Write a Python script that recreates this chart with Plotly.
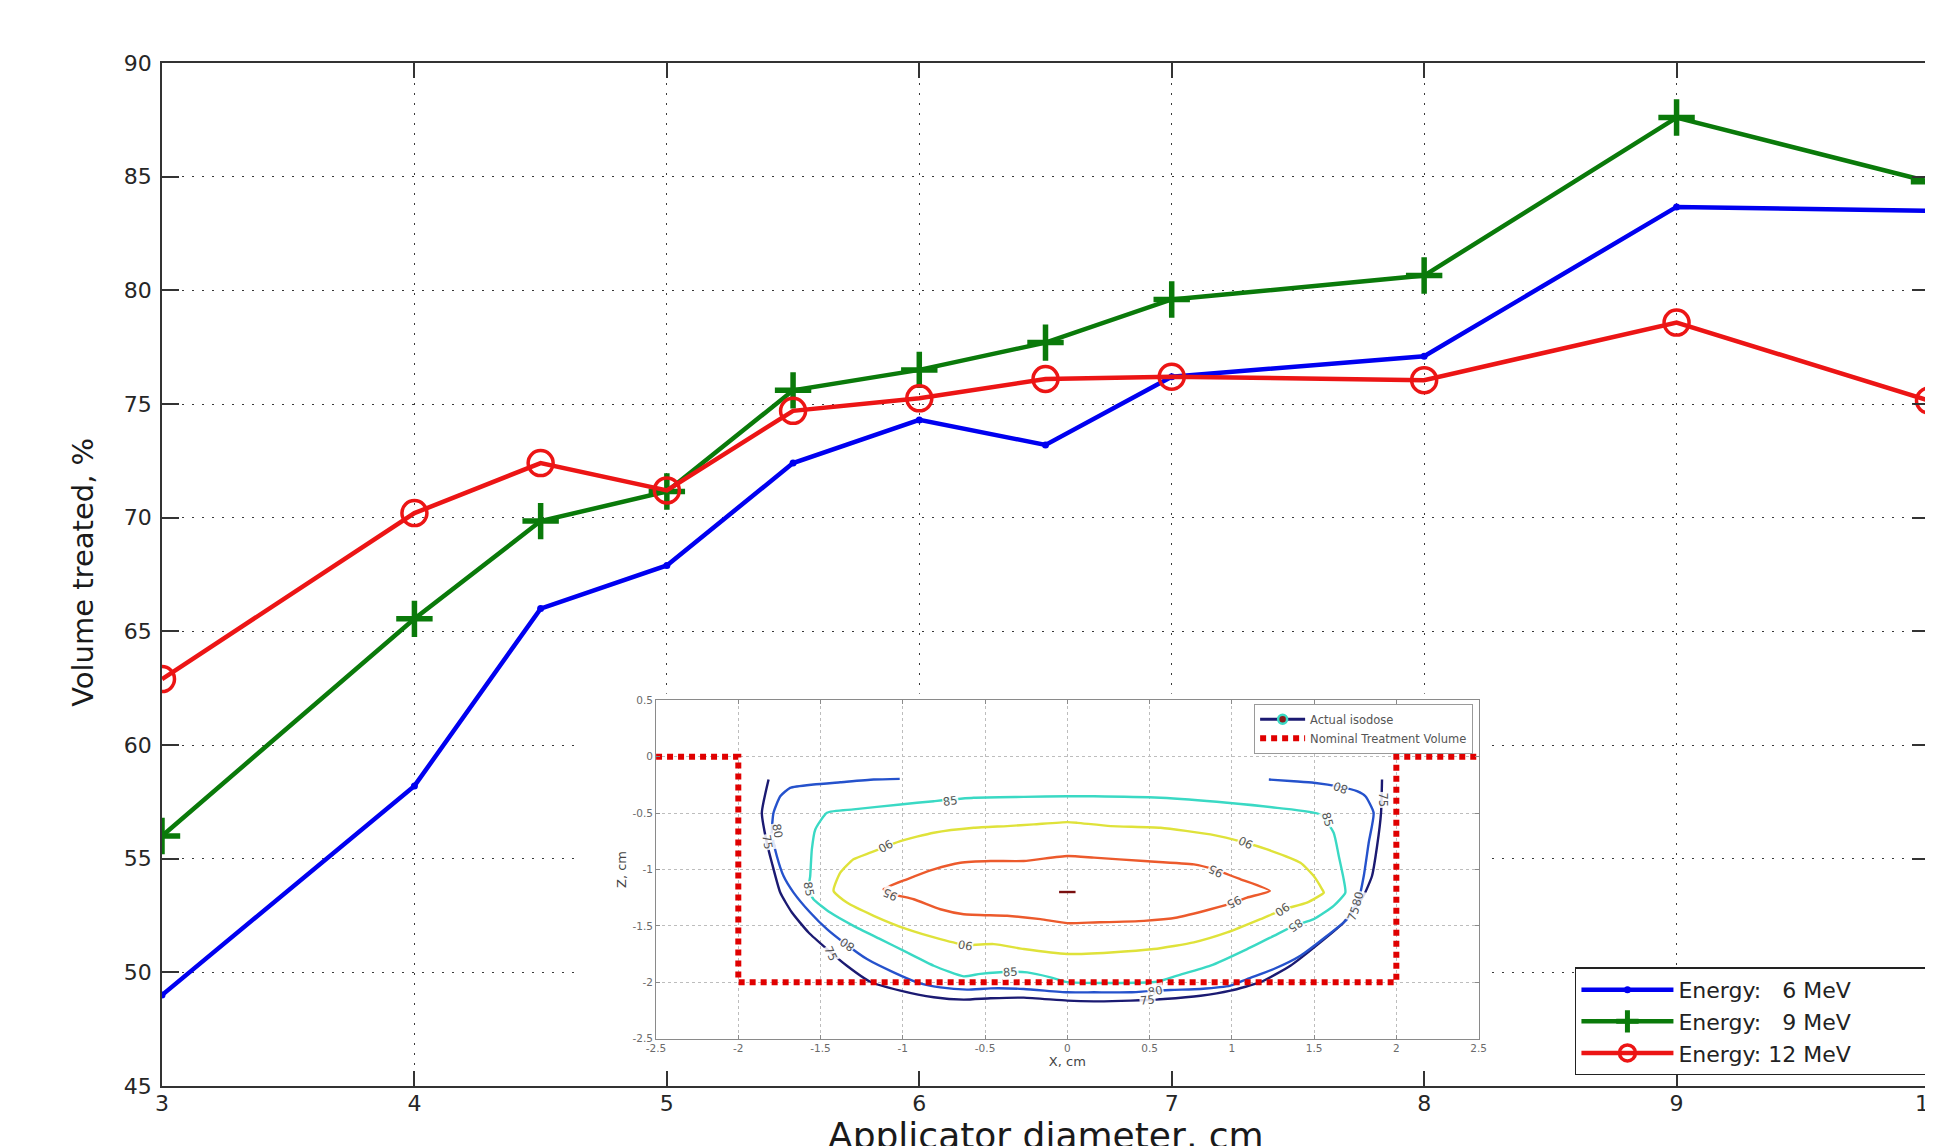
import plotly.graph_objects as go

# ---------------- main chart data ----------------
diameter_cm = [3, 4, 4.5, 5, 5.5, 6, 6.5, 7, 8, 9, 10]
vol_6mev = [49.0, 58.2, 66.0, 67.9, 72.4, 74.3, 73.2, 76.2, 77.1, 83.67, 83.5]
vol_9mev = [56.0, 65.55, 69.85, 71.15, 75.6, 76.5, 77.7, 79.6, 80.65, 87.6, 84.78]
vol_12mev = [62.9, 70.2, 72.4, 71.2, 74.7, 75.25, 76.1, 76.2, 76.05, 78.58, 75.15]
series_names = ["Energy: \u20076 MeV", "Energy: \u20079 MeV", "Energy: 12 MeV"]
main_xticks = [3, 4, 5, 6, 7, 8, 9, 10]
main_yticks = [45, 50, 55, 60, 65, 70, 75, 80, 85, 90]

# ---------------- inset (isodose contours) data ----------------
iso75_x = [-1.816, -1.857, -1.831, -1.796, -1.745, -1.674, -1.573, -1.461, -1.340, -1.198,
           -1.015, -0.812, -0.630, -0.467, -0.265, 0.0, 0.162, 0.385, 0.587, 0.81, 0.992,
           1.174, 1.356, 1.538, 1.68, 1.80, 1.852, 1.883, 1.907, 1.913]
iso75_y = [-0.202, -0.497, -0.733, -0.94, -1.205, -1.382, -1.559, -1.706, -1.854, -1.996,
           -2.075, -2.134, -2.155, -2.143, -2.137, -2.164, -2.17, -2.164, -2.149, -2.12, -2.075,
           -2.0, -1.854, -1.647, -1.47, -1.235, -1.058, -0.792, -0.497, -0.202]

iso80_x = [-1.019, -1.177, -1.38, -1.543, -1.685, -1.745, -1.786, -1.796, -1.766, -1.725,
           -1.664, -1.563, -1.461, -1.36, -1.218, -1.056, -0.914, -0.772, -0.61, -0.467,
           -0.265, 0.0, 0.162, 0.385, 0.627, 0.81, 0.992, 1.093, 1.255, 1.417, 1.579, 1.70,
           1.771, 1.802, 1.832, 1.862, 1.812, 1.761, 1.66, 1.498, 1.377, 1.225]
iso80_y = [-0.196, -0.202, -0.226, -0.246, -0.276, -0.35, -0.497, -0.674, -0.88, -1.058,
           -1.205, -1.382, -1.53, -1.648, -1.795, -1.913, -2.001, -2.046, -2.066, -2.055,
           -2.06, -2.09, -2.09, -2.09, -2.069, -2.06, -2.031, -1.972, -1.883, -1.765, -1.588,
           -1.441, -1.264, -1.058, -0.763, -0.497, -0.35, -0.305, -0.267, -0.23, -0.217, -0.202]

iso85_x = [-1.461, -1.30, -1.015, -0.812, -0.569, -0.265, 0.0, 0.162, 0.567, 0.972, 1.275,
           1.538, 1.619, 1.65, 1.68, 1.69, 1.619, 1.498, 1.377, 1.255, 1.093, 0.87, 0.668,
           0.547, 0.0, -0.102, -0.244, -0.346, -0.529, -0.63, -0.812, -0.975, -1.137, -1.30,
           -1.441, -1.543, -1.573, -1.563, -1.553, -1.532, -1.461]
iso85_y = [-0.497, -0.467, -0.423, -0.394, -0.364, -0.356, -0.35, -0.35, -0.364, -0.408,
           -0.453, -0.512, -0.674, -0.88, -1.087, -1.205, -1.323, -1.441, -1.5, -1.589,
           -1.706, -1.854, -1.942, -1.996, -2.0, -1.957, -1.913, -1.907, -1.926, -1.948,
           -1.854, -1.736, -1.618, -1.5, -1.382, -1.264, -1.176, -1.058, -0.822, -0.645, -0.497]

iso90_x = [-1.421, -1.38, -1.30, -1.198, -1.015, -0.812, -0.569, -0.366, -0.204, 0.0, 0.061,
           0.263, 0.567, 0.87, 1.083, 1.215, 1.417, 1.498, 1.549, 1.559, 1.457, 1.316, 1.174,
           0.972, 0.769, 0.526, 0.263, 0.0, -0.265, -0.447, -0.62, -0.772, -0.975, -1.177,
           -1.34, -1.421]
iso90_y = [-1.19, -1.028, -0.91, -0.851, -0.748, -0.674, -0.63, -0.615, -0.6, -0.58, -0.586,
           -0.615, -0.63, -0.689, -0.763, -0.822, -0.94, -1.058, -1.176, -1.205, -1.294,
           -1.353, -1.441, -1.559, -1.647, -1.706, -1.736, -1.75, -1.706, -1.662, -1.67,
           -1.618, -1.53, -1.411, -1.294, -1.19]

iso95_x = [-1.117, -0.975, -0.812, -0.65, -0.467, -0.265, 0.0, 0.162, 0.466, 0.769, 0.891,
           1.053, 1.231, 1.093, 1.012, 0.87, 0.668, 0.466, 0.162, 0.0, -0.163, -0.366, -0.63,
           -0.772, -0.934, -1.056, -1.117]
iso95_y = [-1.176, -1.087, -0.999, -0.94, -0.925, -0.925, -0.88, -0.895, -0.925, -0.955,
           -0.999, -1.087, -1.19, -1.249, -1.294, -1.353, -1.426, -1.456, -1.47, -1.476,
           -1.441, -1.411, -1.397, -1.353, -1.264, -1.22, -1.176]

iso100_x = [-0.05, 0.05]
iso100_y = [-1.2, -1.2]

nominal_x = [-2.5, -2.0, -2.0, 2.0, 2.0, 2.5]
nominal_z = [0.0, 0.0, -2.0, -2.0, 0.0, 0.0]

clabel_text = ["85", "90", "80", "75", "85", "95", "90", "80", "75", "85",
               "80", "75", "85", "90", "95", "95", "90", "85", "80", "75", "80", "75"]
clabel_x = [-0.711, -1.106, -1.762, -1.823, -1.573, -1.076, -0.62, -1.34, -1.437, -0.346,
            1.66, 1.913, 1.579, 1.083, 0.901, 1.012, 1.306, 1.387, 1.767, 1.741, 0.536, 0.49]
clabel_z = [-0.394, -0.792, -0.659, -0.757, -1.176, -1.22, -1.671, -1.662, -1.751, -1.907,
            -0.276, -0.379, -0.556, -0.763, -1.014, -1.294, -1.353, -1.5, -1.264, -1.388,
            -2.075, -2.155]
clabel_angle = [-8, 150, 80, 80, 80, 205, 190, 215, 65, -4,
                200, 90, 75, 205, 205, 155, 145, 145, -75, -70, -10, -5]

inset_xticks = [-2.5, -2, -1.5, -1, -0.5, 0, 0.5, 1, 1.5, 2, 2.5]
inset_xticktext = ["-2.5", "-2", "-1.5", "-1", "-0.5", "0", "0.5", "1", "1.5", "2", "2.5"]
inset_yticks = [0.5, 0, -0.5, -1, -1.5, -2, -2.5]
inset_yticktext = ["0.5", "0", "-0.5", "-1", "-1.5", "-2", "-2.5"]

FONT = "DejaVu Sans, Liberation Sans, Arial, sans-serif"
LEGEND_PAD = "\u2007" * 5  # blank figure spaces: widen legend box like the original

fig = go.Figure()

# main series
fig.add_trace(go.Scatter(
    x=diameter_cm, y=vol_6mev, name=series_names[0] + LEGEND_PAD, mode="lines+markers",
    line=dict(color="#0000f0", width=4.5),
    marker=dict(symbol="circle", size=7, color="#0000f0"), legend="legend"))
fig.add_trace(go.Scatter(
    x=diameter_cm, y=vol_9mev, name=series_names[1] + LEGEND_PAD, mode="lines+markers",
    line=dict(color="#0a7a0a", width=4.5),
    marker=dict(symbol="cross-thin", size=26, color="#0a7a0a",
                line=dict(color="#0a7a0a", width=5.5)), legend="legend"))
fig.add_trace(go.Scatter(
    x=diameter_cm, y=vol_12mev, name=series_names[2] + LEGEND_PAD, mode="lines+markers",
    line=dict(color="#ec1515", width=4.5),
    marker=dict(symbol="circle-open", size=25, color="#ec1515",
                line=dict(color="#ec1515", width=3.5)), legend="legend"))

# blank cover subplot (white panel behind the inset)
fig.add_trace(go.Scatter(x=[None], y=[None], xaxis="x2", yaxis="y2",
                         showlegend=False, hoverinfo="skip"))

# inset contours
iso_sets = [
    (iso75_x, iso75_y, "#1b1a72"),
    (iso80_x, iso80_y, "#2552cc"),
    (iso85_x, iso85_y, "#3ad9c4"),
    (iso90_x, iso90_y, "#dfe23a"),
    (iso95_x, iso95_y, "#ec5a2c"),
    (iso100_x, iso100_y, "#7a0f0f"),
]
for xs, ys, col in iso_sets:
    fig.add_trace(go.Scatter(x=xs, y=ys, xaxis="x3", yaxis="y3", mode="lines",
                             line=dict(color=col, width=2.4, shape="spline", smoothing=0.5),
                             showlegend=False, hoverinfo="skip"))

# inset legend entries
fig.add_trace(go.Scatter(x=[None], y=[None], xaxis="x3", yaxis="y3",
                         name="Actual isodose", mode="lines+markers",
                         line=dict(color="#1b1a72", width=3),
                         marker=dict(symbol="circle", size=9, color="#8b1a1a",
                                     line=dict(color="#3ad9c4", width=2.5)),
                         legend="legend2"))
fig.add_trace(go.Scatter(x=nominal_x, y=nominal_z, xaxis="x3", yaxis="y3",
                         name="Nominal Treatment Volume", mode="lines",
                         line=dict(color="#e00000", width=6, dash="6px,5px"),
                         legend="legend2", hoverinfo="skip"))

annotations = []
for t, xv, zv, ang in zip(clabel_text, clabel_x, clabel_z, clabel_angle):
    annotations.append(dict(text=t, x=xv, y=zv, xref="x3", yref="y3", showarrow=False,
                            textangle=ang, font=dict(family=FONT, size=11.5, color="#555555"),
                            bgcolor="rgba(255,255,255,0.85)", borderpad=0))

annotations.append(dict(text="Applicator diameter, cm", x=0.5, y=-0.0485, xref="paper",
                        yref="paper", showarrow=False, xanchor="center", yanchor="middle",
                        font=dict(family=FONT, size=36, color="#1a1a1a")))
annotations.append(dict(text="Volume treated, %", x=-0.0445, y=0.502, xref="paper",
                        yref="paper", showarrow=False, xanchor="center", yanchor="middle",
                        textangle=-90, font=dict(family=FONT, size=29, color="#1a1a1a")))

grid_style = dict(showgrid=True, gridcolor="#3a3a3a", gridwidth=1.3, griddash="2px,8px")

fig.update_layout(
    width=1925, height=1138,
    margin=dict(l=154, r=4, t=55, b=59.5, autoexpand=False),
    paper_bgcolor="white", plot_bgcolor="white",
    showlegend=True,
    xaxis=dict(domain=[0, 1], range=[3, 10], tickvals=main_xticks, ticks="inside",
               ticklen=15, tickwidth=1.5, tickcolor="#333333", showline=True,
               linecolor="#333333", linewidth=1.8, mirror="ticks", zeroline=False,
               tickfont=dict(family=FONT, size=22, color="#262626"),
               ticklabelstandoff=-3, ticklabeloverflow="allow", **grid_style),
    yaxis=dict(domain=[0, 1], range=[45, 90], tickvals=main_yticks, ticks="inside",
               ticklen=17, tickwidth=1.5, tickcolor="#333333", showline=True,
               linecolor="#333333", linewidth=1.8, mirror="ticks", zeroline=False,
               tickfont=dict(family=FONT, size=22, color="#262626"),
               ticklabelstandoff=4, **grid_style),
    xaxis2=dict(domain=[0.2332, 0.7493], anchor="y2", range=[0, 1], visible=False),
    yaxis2=dict(domain=[0.0151, 0.3835], anchor="x2", range=[0, 1], visible=False),
    xaxis3=dict(domain=[0.2796, 0.7451], anchor="y3", range=[-2.5, 2.5],
                tickvals=inset_xticks, ticktext=inset_xticktext, ticks="inside",
                ticklen=4, tickcolor="#8a8a8a", showline=True, linecolor="#8a8a8a",
                linewidth=1, mirror="ticks", zeroline=False,
                showgrid=True, gridcolor="#bdbdbd", gridwidth=1, griddash="dot",
                tickfont=dict(family=FONT, size=10.5, color="#6a6a6a"),
                title=dict(text="X, cm", standoff=1,
                           font=dict(family=FONT, size=13, color="#444444"))),
    yaxis3=dict(domain=[0.0464, 0.3769], anchor="x3", range=[-2.5, 0.5],
                tickvals=inset_yticks, ticktext=inset_yticktext, ticks="inside",
                ticklen=4, tickcolor="#8a8a8a", showline=True, linecolor="#8a8a8a",
                linewidth=1, mirror="ticks", zeroline=False,
                showgrid=True, gridcolor="#bdbdbd", gridwidth=1, griddash="dot",
                tickfont=dict(family=FONT, size=10.5, color="#6a6a6a"),
                title=dict(text="Z, cm", standoff=2,
                           font=dict(family=FONT, size=13, color="#444444"))),
    legend=dict(x=0.9994, y=0.0103, xanchor="right", yanchor="bottom",
                bgcolor="white", bordercolor="#222222", borderwidth=1.5,
                font=dict(family=FONT, size=22, color="#222222"),
                itemwidth=92, tracegroupgap=0),
    legend2=dict(x=0.742, y=0.3737, xanchor="right", yanchor="top",
                 bgcolor="white", bordercolor="#9a9a9a", borderwidth=1,
                 font=dict(family=FONT, size=11.5, color="#555555"),
                 itemwidth=45, tracegroupgap=0),
    annotations=annotations,
)

fig.write_html("out.html")
